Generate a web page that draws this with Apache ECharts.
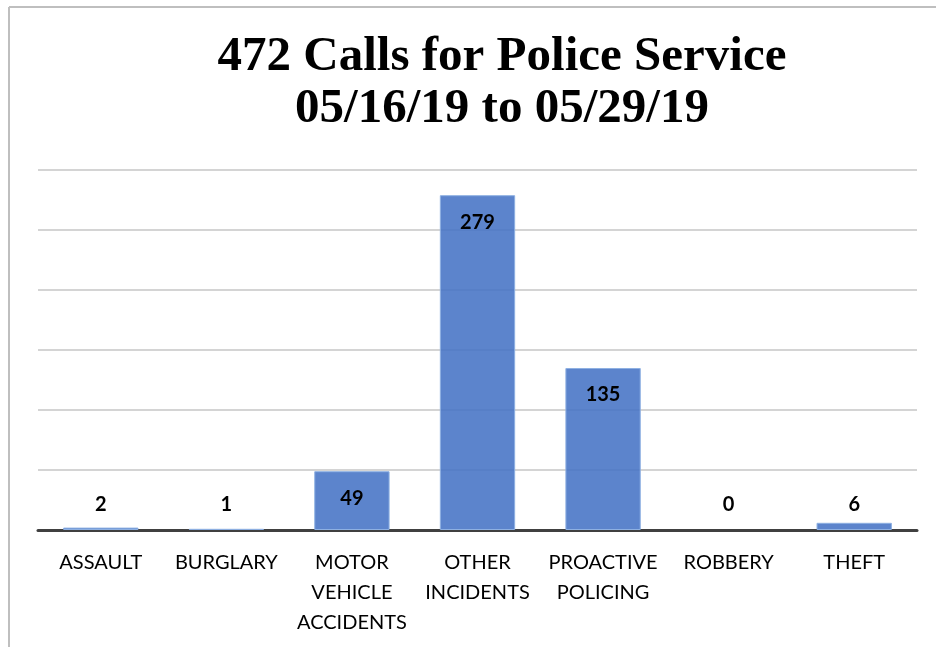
<!DOCTYPE html>
<html>
<head>
<meta charset="utf-8">
<script src="https://cdn.jsdelivr.net/npm/echarts@6/dist/echarts.min.js"></script>
<style>
html,body{margin:0;padding:0;background:#fff;}
#c{width:936px;height:647px;}
</style>
</head>
<body>
<div id="c"></div>
<script>
const categories = ['ASSAULT', 'BURGLARY', 'MOTOR\nVEHICLE\nACCIDENTS', 'OTHER\nINCIDENTS', 'PROACTIVE\nPOLICING', 'ROBBERY', 'THEFT'];
const calls = [2, 1, 49, 279, 135, 0, 6];
const titleText = '472 Calls for Police Service\n05/16/19 to 05/29/19';

const chart = echarts.init(document.getElementById('c'));
const maxVal = Math.max.apply(null, calls);
const seriesData = calls.map(v => {
  const big = v > maxVal * 0.1;
  return {
    value: v,
    itemStyle: v === 0 ? {borderWidth: 0} : undefined,
    label: big ? {position: 'insideTop', distance: 17} : {position: 'insideBottom', distance: 15}
  };
});

chart.setOption({
  animation: false,
  graphic: [
    {type: 'line', shape: {x1: 9, y1: 7, x2: 9, y2: 647}, style: {stroke: '#bfbfbf', lineWidth: 2}},
    {type: 'line', shape: {x1: 9, y1: 7, x2: 936, y2: 7}, style: {stroke: '#bfbfbf', lineWidth: 2}},
    {
      type: 'text', x: 502, y: 83,
      style: {
        text: titleText,
        textAlign: 'center',
        textVerticalAlign: 'middle',
        font: 'bold 49px "Liberation Serif"',
        lineHeight: 52,
        fill: '#000'
      }
    }
  ],
  grid: {left: 38, right: 19, top: 170, bottom: 117, containLabel: false},
  xAxis: {
    type: 'category',
    data: categories,
    axisLine: {lineStyle: {color: '#404040', width: 3}},
    axisTick: {show: false},
    axisLabel: {
      interval: 0,
      margin: 18,
      fontFamily: 'Lato',
      fontSize: 20,
      lineHeight: 30,
      color: '#000'
    }
  },
  yAxis: {
    type: 'value',
    min: 0,
    max: 300,
    interval: 50,
    axisLabel: {show: false},
    axisLine: {show: false},
    axisTick: {show: false},
    splitLine: {lineStyle: {color: '#d4d4d4', width: 2}}
  },
  series: [{
    type: 'bar',
    data: seriesData,
    barWidth: '60%',
    itemStyle: {color: 'rgba(68,114,196,0.87)', borderColor: '#8eb0e2', borderWidth: 1},
    label: {
      show: true,
      fontFamily: 'Lato',
      fontWeight: 'bold',
      fontSize: 20,
      color: '#000'
    }
  }]
});
</script>
</body>
</html>
